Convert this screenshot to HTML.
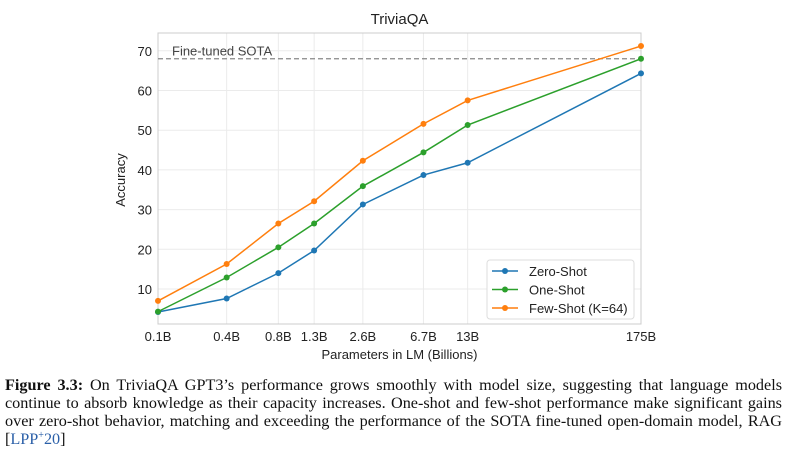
<!DOCTYPE html>
<html><head><meta charset="utf-8"><style>
body{margin:0;width:787px;height:454px;background:#fff;overflow:hidden;font-family:"Liberation Sans",sans-serif}
#cap{position:absolute;left:5px;top:376px;width:777px;font-family:"Liberation Serif",serif;font-size:16.2px;line-height:18px;text-align:justify;color:#111}
a{color:#2a5fa8;text-decoration:none}
sup{font-size:10px;position:relative;top:-6px;vertical-align:baseline;line-height:0}
</style></head><body>
<svg id="chart" width="787" height="370" style="position:absolute;left:0;top:0" font-family="Liberation Sans, sans-serif"></svg>
<div id="cap"><b>Figure 3.3:</b> On TriviaQA GPT3’s performance grows smoothly with model size, suggesting that language models continue to absorb knowledge as their capacity increases. One-shot and few-shot performance make significant gains over zero-shot behavior, matching and exceeding the performance of the SOTA fine-tuned open-domain model, RAG [<a>LPP<sup>+</sup>20</a>]</div>
<script>
const categories=["0.1B","0.4B","0.8B","1.3B","2.6B","6.7B","13B","175B"];
const params=[0.125,0.35,0.76,1.3,2.7,6.7,13,175];
const zeroShot=[4.2,7.6,14.0,19.7,31.3,38.7,41.8,64.3];
const oneShot=[4.3,12.9,20.5,26.5,35.9,44.4,51.3,68.0];
const fewShot=[7.0,16.3,26.5,32.1,42.3,51.6,57.5,71.2];
const sota=68.0;
const yTicks=[10,20,30,40,50,60,70];
const series=[["zero-shot","Zero-Shot",zeroShot,"#1f77b4"],["one-shot","One-Shot",oneShot,"#2ca02c"],["few-shot","Few-Shot (K=64)",fewShot,"#ff7f0e"]];
const L=158,R=641,T=33,B=324;
const x=p=>L+(Math.log10(p)-Math.log10(params[0]))/(Math.log10(params[params.length-1])-Math.log10(params[0]))*(R-L);
const y=v=>289-(v-10)*3.97;
const svg=document.getElementById('chart');const NS="http://www.w3.org/2000/svg";
function mk(t,a,txt){const e=document.createElementNS(NS,t);for(const k in a)e.setAttribute(k,a[k]);if(txt!==undefined)e.textContent=txt;svg.appendChild(e);return e;}
let e;
yTicks.forEach(v=>{e=mk('line',{x1:L,x2:R,y1:y(v),y2:y(v),stroke:'#ebebeb','stroke-width':1});


e=mk('text',{x:L-6,y:y(v)+5,'text-anchor':'end','font-size':13,fill:'#222'},v);

});
params.forEach((p,i)=>{e=mk('line',{x1:x(p),x2:x(p),y1:T,y2:B,stroke:'#ebebeb','stroke-width':1});


e=mk('text',{x:x(p),y:B+17,'text-anchor':'middle','font-size':13,fill:'#222'},categories[i]);

});
e=mk('rect',{x:L,y:T,width:R-L,height:B-T,fill:'none',stroke:'#ccc','stroke-width':1});


e=mk('line',{x1:L,x2:R,y1:y(sota),y2:y(sota),stroke:'#888','stroke-width':1.2,'stroke-dasharray':'5,3'});


e=mk('text',{x:172,y:y(sota)-3,'font-size':13,fill:'#444'},'Fine-tuned SOTA');


series.forEach(([id,name,vals,c])=>{
e=mk('polyline',{points:vals.map((v,i)=>x(params[i])+','+y(v)).join(' '),fill:'none',stroke:c,'stroke-width':1.5});


vals.forEach((v,i)=>{e=mk('circle',{cx:x(params[i]),cy:y(v),r:3,fill:c});

});});
e=mk('text',{x:(L+R)/2,y:24,'text-anchor':'middle','font-size':15,fill:'#222'},'TriviaQA');


e=mk('text',{x:(L+R)/2,y:359,'text-anchor':'middle','font-size':13,fill:'#222'},'Parameters in LM (Billions)');


e=mk('text',{x:125,y:180,'text-anchor':'middle','font-size':13,fill:'#222',transform:'rotate(-90 125 180)'},'Accuracy');


e=mk('rect',{x:487,y:260,width:147,height:59,rx:3,fill:'#fff',stroke:'#ddd'});


series.forEach(([id,name,vals,c],i)=>{const yy=271+i*18.5;
e=mk('line',{x1:492,x2:518,y1:yy,y2:yy,stroke:c,'stroke-width':1.5});


e=mk('circle',{cx:505,cy:yy,r:3,fill:c});


e=mk('text',{x:529,y:yy+5,'font-size':13,fill:'#222'},name);

});
</script>
</body></html>
